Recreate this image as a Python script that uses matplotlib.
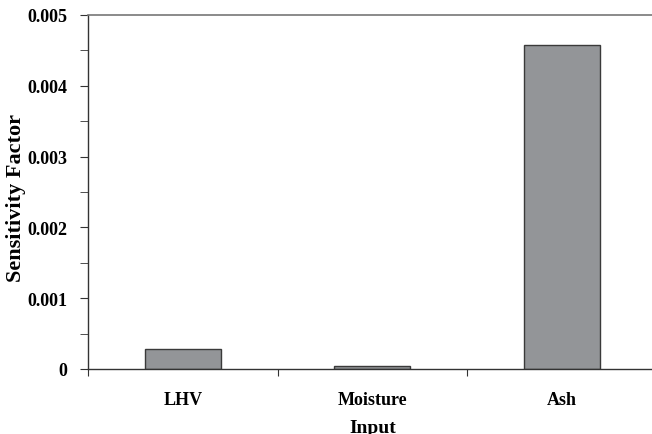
import matplotlib.pyplot as plt
from matplotlib.ticker import MultipleLocator, FixedLocator, NullFormatter

plt.rcParams['font.family'] = ['Liberation Serif', 'DejaVu Serif']
plt.rcParams['font.weight'] = 'bold'

categories = ['LHV', 'Moisture', 'Ash']
values = [0.00028, 0.00004, 0.00458]
yticks = [0, 0.001, 0.002, 0.003, 0.004, 0.005]
ytick_labels = ['0', '0.001', '0.002', '0.003', '0.004', '0.005']

fig = plt.figure(figsize=(6.52, 4.35), dpi=100)
# axes runs slightly past the right edge, like the original crop
ax = fig.add_axes([88.3 / 652, 65 / 435, 568 / 652, 354 / 435])

pos = list(range(len(categories)))
ax.bar(pos, values, width=0.4, color='#939598', edgecolor='#3a3a3a', linewidth=1.0)

ax.set_xlim(-0.5, 2.5)
ax.set_ylim(0, 0.005)

# category borders as ticks, labels in the middle
ax.xaxis.set_major_locator(FixedLocator([-0.5, 0.5, 1.5, 2.5]))
ax.xaxis.set_major_formatter(NullFormatter())
ax.set_xticks(pos, minor=True)
ax.set_xticklabels(categories, minor=True)
ax.tick_params(axis='x', which='minor', length=0, pad=16, labelsize=13)
ax.tick_params(axis='x', which='major', length=5, direction='out', color='#333333')

ax.set_yticks(yticks)
ax.set_yticklabels(ytick_labels)
ax.yaxis.set_minor_locator(MultipleLocator(0.0005))
ax.tick_params(axis='y', which='both', length=6, direction='out', color='#333333', labelsize=13, pad=9)

for s in ['left', 'bottom']:
    ax.spines[s].set_color('#333333')
    ax.spines[s].set_linewidth(1.0)
ax.spines['top'].set_color('#777777')
ax.spines['top'].set_linewidth(1.2)
ax.spines['right'].set_visible(False)

ax.set_xlabel('Input', fontsize=14, fontweight='bold', labelpad=8)
ax.set_ylabel('Sensitivity Factor', fontsize=16, fontweight='bold')
ax.yaxis.set_label_coords(-0.11, 0.486)

plt.savefig('out.png', dpi=100)
